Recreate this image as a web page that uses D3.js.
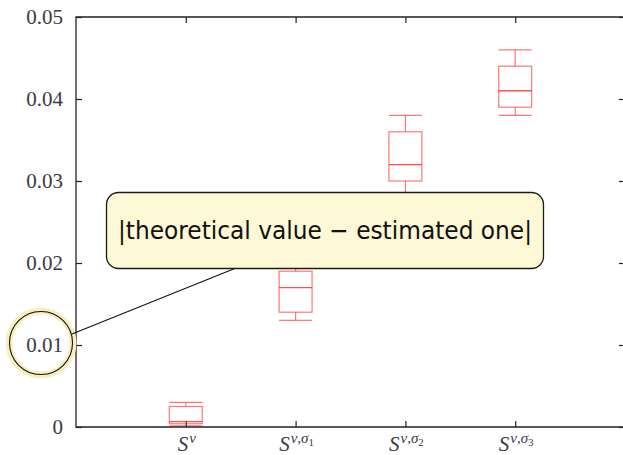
<!DOCTYPE html>
<html>
<head>
<meta charset="utf-8">
<script src="https://cdn.jsdelivr.net/npm/d3@7"></script>
<style>
  body { margin: 0; background: #fff; }
  svg { display: block; }
  .tick line { stroke: #222; stroke-width: 1.2; }
</style>
</head>
<body>
<svg width="623" height="455"></svg>
<script>
// categories (S with superscript nu / nu,sigma_k)
const catPos = [1, 2, 3, 4];
const catSup = ["ν", "ν,σ", "ν,σ", "ν,σ"];
const catSub = ["", "1", "2", "3"];

// box plot values
const whiskerLow  = [0.00015, 0.013, 0.028, 0.038];
const q1          = [0.0004,  0.014, 0.030, 0.039];
const median      = [0.00065, 0.017, 0.032, 0.041];
const q3          = [0.0025,  0.019, 0.036, 0.044];
const whiskerHigh = [0.003,   0.021, 0.038, 0.046];

const yTicks = [0, 0.01, 0.02, 0.03, 0.04, 0.05];
const noteText = "|theoretical value − estimated one|";

const serif = "'Liberation Serif', 'Times New Roman', serif";
const svg = d3.select("svg");
const L = 76, R = 625, T = 17, B = 427;

const x = d3.scaleLinear().domain([0, 5]).range([L, R]);
const y = d3.scaleLinear().domain([0, 0.05]).range([B, T]);

const fmt = d => d === 0 ? "0" : d3.format(".2f")(d);

// axes, ticks pointing inside
svg.append("g").attr("transform", "translate(" + L + ",0)")
  .call(d3.axisLeft(y).tickValues(yTicks).tickFormat(fmt).tickSizeInner(-6).tickSizeOuter(0).tickPadding(13))
  .call(g => g.select(".domain").remove())
  .call(g => g.selectAll(".tick text").attr("font-family", serif).attr("font-size", 21).attr("fill", "#3a3a44"));
svg.append("g").attr("transform", "translate(" + R + ",0)")
  .call(d3.axisRight(y).tickValues(yTicks).tickFormat("").tickSizeInner(-6).tickSizeOuter(0))
  .call(g => g.select(".domain").remove());
svg.append("g").attr("transform", "translate(0," + B + ")")
  .call(d3.axisBottom(x).tickValues(catPos).tickFormat("").tickSizeInner(-6).tickSizeOuter(0))
  .call(g => g.select(".domain").remove());
svg.append("g").attr("transform", "translate(0," + T + ")")
  .call(d3.axisTop(x).tickValues(catPos).tickFormat("").tickSizeInner(-6).tickSizeOuter(0))
  .call(g => g.select(".domain").remove());

// x labels with superscripts
catPos.forEach((c, i) => {
  const t = svg.append("text")
    .attr("x", x(c) + 1).attr("y", 451)
    .attr("text-anchor", "middle")
    .attr("font-family", serif)
    .attr("font-style", "italic")
    .attr("fill", "#3a3a44");
  t.append("tspan").attr("font-size", 21).text("S");
  t.append("tspan").attr("font-size", 15).attr("dy", -8).attr("dx", 1).text(catSup[i]);
  if (catSub[i]) t.append("tspan").attr("font-size", 11).attr("font-style", "normal").attr("dy", 3).text(catSub[i]);
});

// box plots
const bw = x(0.3) - x(0);
const boxes = svg.append("g").attr("fill", "none").attr("stroke", "#ff3030");
catPos.forEach((c, i) => {
  const cx = x(c);
  const g = boxes.append("g").attr("stroke-opacity", 0.65).attr("stroke-width", 1.2);
  g.append("rect").attr("x", cx - bw / 2).attr("y", y(q3[i]))
    .attr("width", bw).attr("height", y(q1[i]) - y(q3[i]));
  g.append("line").attr("x1", cx).attr("x2", cx).attr("y1", y(q3[i])).attr("y2", y(whiskerHigh[i]));
  g.append("line").attr("x1", cx).attr("x2", cx).attr("y1", y(q1[i])).attr("y2", y(whiskerLow[i]));
  g.append("line").attr("x1", cx - bw / 2).attr("x2", cx + bw / 2).attr("y1", y(whiskerHigh[i])).attr("y2", y(whiskerHigh[i]));
  g.append("line").attr("x1", cx - bw / 2).attr("x2", cx + bw / 2).attr("y1", y(whiskerLow[i])).attr("y2", y(whiskerLow[i]));
  boxes.append("line").attr("stroke-opacity", 0.85).attr("stroke-width", 1.4)
    .attr("x1", cx - bw / 2).attr("x2", cx + bw / 2).attr("y1", y(median[i])).attr("y2", y(median[i]));
});

// frame
svg.append("path")
  .attr("d", "M" + R + "," + T + "H" + L + "V" + B + "H" + R)
  .attr("fill", "none").attr("stroke", "#222").attr("stroke-width", 1.3);

// callout: circle around the 0.01 label, line to note box
const cc = { x: 41, y: y(0.01) - 2 };
svg.append("circle").attr("cx", cc.x).attr("cy", cc.y).attr("r", 32)
  .attr("fill", "none").attr("stroke", "#f7efbf").attr("stroke-width", 7);
svg.append("circle").attr("cx", cc.x).attr("cy", cc.y).attr("r", 31.5)
  .attr("fill", "none").attr("stroke", "#111").attr("stroke-width", 1.1);
svg.append("line").attr("x1", 72).attr("y1", 334).attr("x2", 236).attr("y2", 268)
  .attr("stroke", "#111").attr("stroke-width", 1.1);

svg.append("rect").attr("x", 106.5).attr("y", 192.5).attr("width", 437).attr("height", 76)
  .attr("rx", 12).attr("fill", "#fdf8d5").attr("stroke", "#1c1c1c").attr("stroke-width", 1.3);
svg.append("text").attr("x", 118).attr("y", 239)
  .attr("font-family", "'DejaVu Sans', sans-serif").attr("font-size", 25).attr("fill", "#111")
  .attr("textLength", 414).attr("lengthAdjust", "spacingAndGlyphs")
  .text(noteText);
</script>
</body>
</html>
